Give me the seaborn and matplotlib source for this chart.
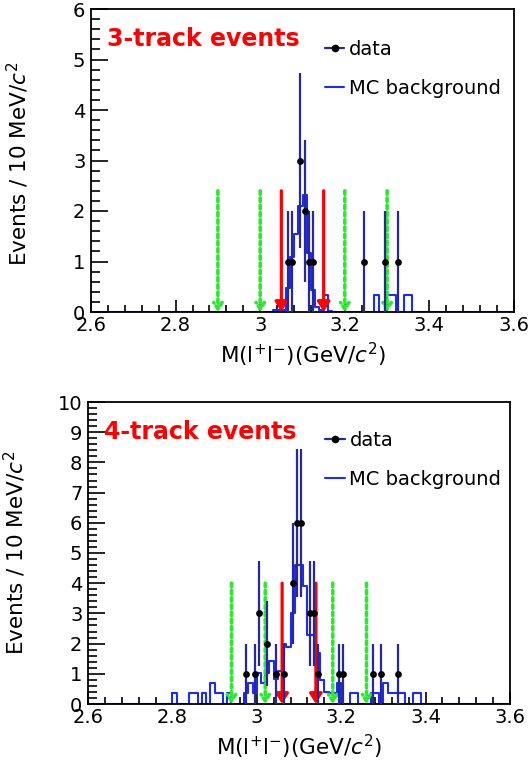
import numpy as np
import pandas as pd
import matplotlib
matplotlib.use("Agg")
import matplotlib.pyplot as plt
import seaborn as sns
from matplotlib.lines import Line2D
from matplotlib.ticker import MultipleLocator, FuncFormatter

# ---------------- data ----------------
x_min, x_max, bin_width = 2.6, 3.6, 0.01

# 3-track events
data3_mass = [3.065, 3.075, 3.095, 3.105, 3.115, 3.125, 3.245, 3.295, 3.325]
data3_count = [1, 1, 3, 2, 1, 1, 1, 1, 1]
mc3_bin_low = [3.03, 3.04, 3.05, 3.06, 3.07, 3.08, 3.09, 3.10, 3.11, 3.12, 3.13,
               3.14, 3.15, 3.16, 3.27, 3.30, 3.31, 3.34, 3.35]
mc3_value = [0.03, 0.03, 0.03, 0.47, 1.08, 1.55, 2.10, 2.32, 1.17, 0.43, 0.10,
             0.03, 0.33, 0.02, 0.33, 0.33, 0.33, 0.33, 0.33]
signal3 = [3.05, 3.15]
sideband3 = [2.90, 3.00, 3.20, 3.30]
cut_height3 = 2.4
ymax3 = 6

# 4-track events
data4_mass = [2.975, 2.995, 3.005, 3.025, 3.045, 3.065, 3.085, 3.095, 3.105,
              3.125, 3.135, 3.145, 3.195, 3.205, 3.275, 3.295, 3.335]
data4_count = [1, 1, 3, 2, 1, 1, 4, 6, 6, 3, 3, 1, 1, 1, 1, 1, 1]
mc4_bin_low = [2.80, 2.84, 2.85, 2.87, 2.89, 2.90, 2.91, 2.93, 2.97, 2.98, 2.99,
               3.00, 3.01, 3.02, 3.03, 3.04, 3.05, 3.06, 3.07, 3.08, 3.09, 3.10,
               3.11, 3.12, 3.13, 3.14, 3.15, 3.16, 3.17, 3.18, 3.19, 3.22, 3.23,
               3.27, 3.28, 3.30, 3.31, 3.32, 3.33, 3.34, 3.37, 3.38]
mc4_value = [0.35, 0.35, 0.35, 0.35, 0.69, 0.35, 0.35, 0.35, 0.35, 0.69, 0.35,
             1.04, 0.69, 1.04, 1.41, 0.82, 1.08, 2.00, 1.90, 3.00, 4.60, 4.60,
             3.90, 2.30, 2.30, 1.70, 0.80, 0.41, 0.36, 0.36, 0.69, 0.35, 0.35,
             0.35, 0.35, 0.69, 0.35, 0.35, 0.35, 0.35, 0.35, 0.35]
signal4 = [3.06, 3.14]
sideband4 = [2.94, 3.02, 3.18, 3.26]
cut_height4 = 4.0
ymax4 = 10

title3 = "3-track events"
title4 = "4-track events"
xlabel = r"M(l$^{+}$l$^{-}$)(GeV/$c^{2}$)"
ylabel = r"Events / 10 MeV/$c^{2}$"
legend_labels = ["data", "MC background"]

# ---------------- style ----------------
sns.set_theme(style="ticks")
plt.rcParams["font.family"] = ["DejaVu Sans"]
plt.rcParams["mathtext.fontset"] = "dejavusans"
plt.rcParams["text.color"] = "black"
plt.rcParams["axes.labelcolor"] = "black"
plt.rcParams["xtick.color"] = "black"
plt.rcParams["ytick.color"] = "black"

err_color = "#28289e"
mc_color = "#1c2cf2"
green = "#2bea2b"

edges = np.round(np.arange(x_min, x_max + bin_width / 2, bin_width), 2)
centers = (edges[:-1] + edges[1:]) / 2


def full_hist(lows, vals):
    w = np.zeros(len(centers))
    for lo, v in zip(lows, vals):
        w[int(round((lo - x_min) / bin_width))] = v
    return pd.DataFrame({"mass": centers, "weight": w})


fig = plt.figure(figsize=(5.28, 7.66), dpi=100)
ax3 = fig.add_axes([91 / 528, 1 - 312 / 766, 423 / 528, 303 / 766])
ax4 = fig.add_axes([88 / 528, 1 - 704 / 766, 422 / 528, 302 / 766])

panels = [
    (ax3, data3_mass, data3_count, mc3_bin_low, mc3_value, signal3, sideband3,
     cut_height3, ymax3, title3, (0.553, 0.897), 0.488),
    (ax4, data4_mass, data4_count, mc4_bin_low, mc4_value, signal4, sideband4,
     cut_height4, ymax4, title4, (0.562, 0.903), 0.50),
]

for ax, dm, dc, ml, mv, sig, sb, ch, ymax, title, leg_anchor, ylab_y in panels:
    mc_df = full_hist(ml, mv)
    sns.histplot(data=mc_df, x="mass", weights="weight", bins=list(edges),
                 element="step", fill=False, color=mc_color, linewidth=1.5,
                 ax=ax, zorder=2)
    # cut lines
    for xc in sb:
        ax.annotate("", xy=(xc, 0), xytext=(xc, ch),
                    arrowprops=dict(arrowstyle="->,head_width=0.3,head_length=0.45",
                                    color=green, lw=2.6, linestyle=(0, (1, 1)),
                                    shrinkA=0, shrinkB=0, mutation_scale=10),
                    zorder=3)
    for xc in sig:
        ax.annotate("", xy=(xc, 0), xytext=(xc, ch),
                    arrowprops=dict(arrowstyle="-|>,head_width=0.38,head_length=0.6",
                                    color="red", lw=2.3,
                                    shrinkA=0, shrinkB=0, mutation_scale=10),
                    zorder=4)
    dc_arr = np.array(dc, dtype=float)
    ax.errorbar(dm, dc_arr, yerr=np.sqrt(dc_arr), fmt="none", ecolor=err_color,
                elinewidth=1.6, capsize=0, zorder=5)
    sns.scatterplot(x=dm, y=dc_arr, color="black", edgecolor="black", s=24,
                    linewidth=0, ax=ax, zorder=6)

    ax.set_xlim(x_min, x_max)
    ax.set_ylim(0, ymax)
    ax.xaxis.set_major_locator(MultipleLocator(0.2))
    ax.xaxis.set_minor_locator(MultipleLocator(0.04))
    ax.yaxis.set_major_locator(MultipleLocator(1))
    ax.yaxis.set_minor_locator(MultipleLocator(0.2))
    ax.xaxis.set_major_formatter(FuncFormatter(lambda v, p: f"{v:g}"))
    ax.tick_params(which="both", direction="in", top=False, right=False,
                   labelsize=14, colors="black", labelcolor="black", width=1.2)
    ax.tick_params(axis="x", which="major", length=9, pad=3)
    ax.tick_params(axis="x", which="minor", length=5)
    ax.tick_params(axis="y", which="major", length=12, pad=4)
    ax.tick_params(axis="y", which="minor", length=6.5)
    for s in ax.spines.values():
        s.set_linewidth(1.3)
        s.set_color("black")
        s.set_visible(True)
    ax.set_xlabel(xlabel, fontsize=15.5, color="black")
    ax.set_ylabel(ylabel, fontsize=15.5, color="black")
    ax.xaxis.set_label_coords(0.5, -0.095)
    ax.yaxis.set_label_coords(-0.142, ylab_y)
    ax.text(0.038, 0.90, title, transform=ax.transAxes, color="red",
            fontsize=17, fontweight="bold", va="center", ha="left")
    handles = [
        Line2D([0], [0], color=err_color, lw=1.6, marker="o", markersize=4.5,
               markerfacecolor="black", markeredgecolor="black"),
        Line2D([0], [0], color=mc_color, lw=1.5),
    ]
    leg = ax.legend(handles, legend_labels, loc="upper left",
                    bbox_to_anchor=leg_anchor, frameon=False, fontsize=14,
                    handlelength=1.0, handletextpad=0.25, labelspacing=1.0,
                    borderaxespad=0, borderpad=0)
    for t in leg.get_texts():
        t.set_color("black")

fig.savefig("out.png", dpi=100)
